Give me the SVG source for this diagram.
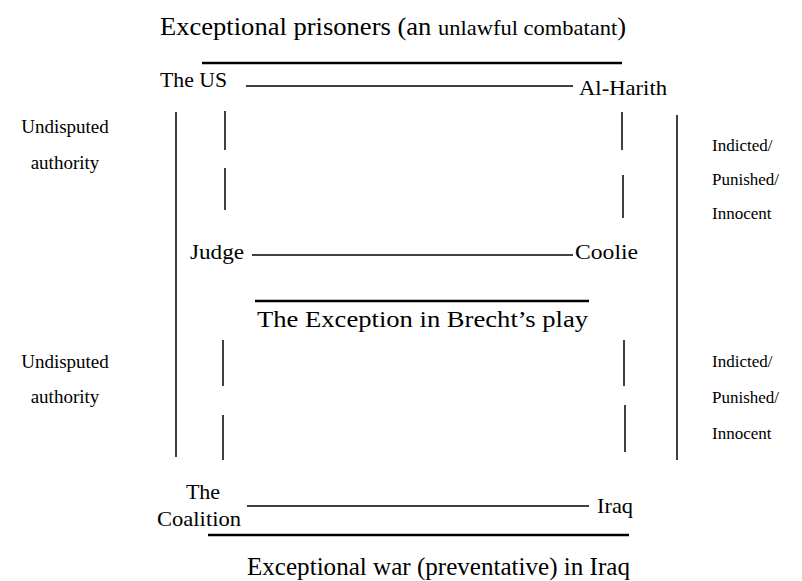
<svg xmlns="http://www.w3.org/2000/svg" width="802" height="581" viewBox="0 0 802 581">
<style>
text{font-family:"Liberation Serif","Times New Roman",serif;fill:#000}
.node{font-size:22px}
.side{font-size:19px}
.rside{font-size:17px}
.thin{stroke:#000;stroke-width:1.5;fill:none}
.thick{stroke:#000;stroke-width:2.6;fill:none}
</style>
<rect width="802" height="581" fill="#fff"/>
<g id="titles">
<text x="160" y="35" textLength="466" lengthAdjust="spacingAndGlyphs" font-size="26">Exceptional prisoners (an <tspan font-size="22">unlawful combatant</tspan>)</text>
<text x="257" y="327" font-size="24" textLength="331" lengthAdjust="spacingAndGlyphs">The Exception in Brecht’s play</text>
<text x="247" y="575" font-size="25" textLength="383" lengthAdjust="spacingAndGlyphs">Exceptional war (preventative) in Iraq</text>
</g>
<g id="side-labels">
<text class="side" x="65" y="133" text-anchor="middle">Undisputed</text>
<text class="side" x="65" y="169" text-anchor="middle">authority</text>
<text class="side" x="65" y="368" text-anchor="middle">Undisputed</text>
<text class="side" x="65" y="403" text-anchor="middle">authority</text>
<text class="rside" x="712" y="151">Indicted/</text>
<text class="rside" x="712" y="185">Punished/</text>
<text class="rside" x="712" y="219">Innocent</text>
<text class="rside" x="712" y="367">Indicted/</text>
<text class="rside" x="712" y="403">Punished/</text>
<text class="rside" x="712" y="439">Innocent</text>
</g>
<g id="n-us"><text class="node" x="160" y="87" textLength="67" lengthAdjust="spacingAndGlyphs">The US</text></g>
<g id="n-alharith"><text class="node" x="579" y="95" textLength="88" lengthAdjust="spacingAndGlyphs">Al-Harith</text></g>
<g id="n-judge"><text class="node" x="190" y="259" textLength="54" lengthAdjust="spacingAndGlyphs">Judge</text></g>
<g id="n-coolie"><text class="node" x="575" y="259" textLength="63" lengthAdjust="spacingAndGlyphs">Coolie</text></g>
<g id="n-coalition"><text class="node" x="203" y="499" text-anchor="middle">The</text><text class="node" x="199" y="526" text-anchor="middle" textLength="84" lengthAdjust="spacingAndGlyphs">Coalition</text></g>
<g id="n-iraq"><text class="node" x="597" y="513" textLength="36" lengthAdjust="spacingAndGlyphs">Iraq</text></g>
<g id="connectors">
<line class="thick" x1="202" y1="63" x2="622" y2="63"/>
<line class="thin" x1="246" y1="86" x2="573" y2="86"/>
<line class="thin" x1="252" y1="255" x2="573" y2="255"/>
<line class="thick" x1="255" y1="301" x2="589" y2="301"/>
<line class="thin" x1="247" y1="506" x2="589" y2="506"/>
<line class="thick" x1="208" y1="535" x2="629" y2="535"/>
<line class="thin" x1="176" y1="112" x2="176" y2="457"/>
<line class="thin" x1="677" y1="115" x2="677" y2="460"/>
<line class="thin" x1="225" y1="111" x2="225" y2="150"/>
<line class="thin" x1="225" y1="168" x2="225" y2="210"/>
<line class="thin" x1="622" y1="112" x2="622" y2="150"/>
<line class="thin" x1="623" y1="175" x2="623" y2="218"/>
<line class="thin" x1="223" y1="340" x2="223" y2="386"/>
<line class="thin" x1="223" y1="415" x2="223" y2="460"/>
<line class="thin" x1="624" y1="340" x2="624" y2="386"/>
<line class="thin" x1="625" y1="405" x2="625" y2="452"/>
</g>
</svg>
